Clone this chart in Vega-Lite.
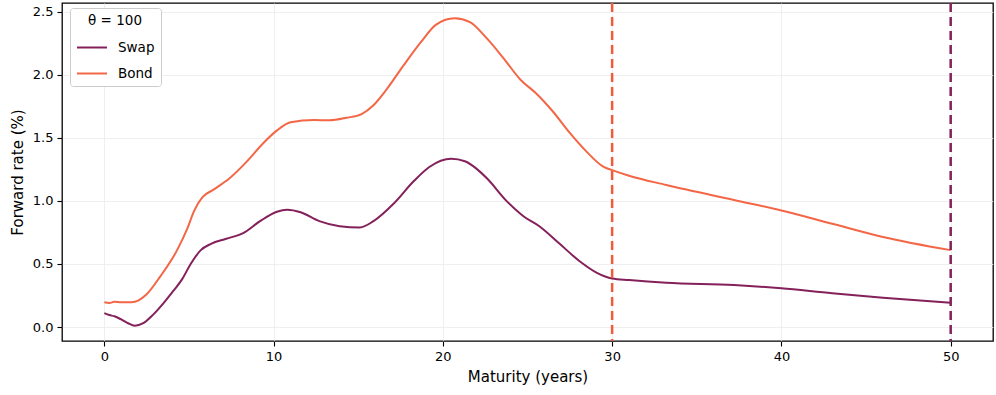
{
  "$schema": "https://vega.github.io/schema/vega-lite/v6.json",
  "width": 931,
  "height": 338,
  "autosize": {"type": "none"},
  "padding": {"left": 62, "top": 3, "right": 3, "bottom": 54},
  "background": "white",
  "config": {
    "font": "DejaVu Sans",
    "view": {"stroke": "black", "strokeWidth": 1.3},
    "axis": {
      "domain": false,
      "grid": true,
      "gridColor": "#ebebeb",
      "gridWidth": 0.8,
      "tickColor": "black",
      "tickSize": 5,
      "tickWidth": 1.1,
      "labelFont": "DejaVu Sans",
      "labelFontSize": 13,
      "labelColor": "black",
      "titleFont": "DejaVu Sans",
      "titleFontSize": 15,
      "titleFontWeight": "normal",
      "titleColor": "black"
    }
  },
  "layer": [
    {
      "data": {"values": [
        {"x": 0, "y": 0.11, "s": "Swap"}, {"x": 0.3, "y": 0.095, "s": "Swap"}, {"x": 0.6, "y": 0.085, "s": "Swap"}, {"x": 1.0, "y": 0.06, "s": "Swap"}, {"x": 1.4, "y": 0.03, "s": "Swap"}, {"x": 1.8, "y": 0.01, "s": "Swap"}, {"x": 2.3, "y": 0.03, "s": "Swap"}, {"x": 2.9, "y": 0.1, "s": "Swap"}, {"x": 3.5, "y": 0.19, "s": "Swap"}, {"x": 4.1, "y": 0.29, "s": "Swap"}, {"x": 4.6, "y": 0.38, "s": "Swap"}, {"x": 5.1, "y": 0.5, "s": "Swap"}, {"x": 5.7, "y": 0.61, "s": "Swap"}, {"x": 6.3, "y": 0.66, "s": "Swap"}, {"x": 7.2, "y": 0.7, "s": "Swap"}, {"x": 8.2, "y": 0.745, "s": "Swap"}, {"x": 9.2, "y": 0.84, "s": "Swap"}, {"x": 10.2, "y": 0.915, "s": "Swap"}, {"x": 10.8, "y": 0.93, "s": "Swap"}, {"x": 11.6, "y": 0.91, "s": "Swap"}, {"x": 12.7, "y": 0.84, "s": "Swap"}, {"x": 13.9, "y": 0.8, "s": "Swap"}, {"x": 15.1, "y": 0.79, "s": "Swap"}, {"x": 15.9, "y": 0.84, "s": "Swap"}, {"x": 17.1, "y": 0.98, "s": "Swap"}, {"x": 18.3, "y": 1.16, "s": "Swap"}, {"x": 19.2, "y": 1.27, "s": "Swap"}, {"x": 20.5, "y": 1.335, "s": "Swap"}, {"x": 21.3, "y": 1.315, "s": "Swap"}, {"x": 22.0, "y": 1.255, "s": "Swap"}, {"x": 22.6, "y": 1.18, "s": "Swap"}, {"x": 23.8, "y": 0.995, "s": "Swap"}, {"x": 24.8, "y": 0.875, "s": "Swap"}, {"x": 25.7, "y": 0.8, "s": "Swap"}, {"x": 26.9, "y": 0.66, "s": "Swap"}, {"x": 28.1, "y": 0.52, "s": "Swap"}, {"x": 29.1, "y": 0.43, "s": "Swap"}, {"x": 30, "y": 0.385, "s": "Swap"}, {"x": 31, "y": 0.373, "s": "Swap"}, {"x": 33.2, "y": 0.352, "s": "Swap"}, {"x": 37.2, "y": 0.333, "s": "Swap"}, {"x": 40, "y": 0.307, "s": "Swap"}, {"x": 43, "y": 0.267, "s": "Swap"}, {"x": 46, "y": 0.233, "s": "Swap"}, {"x": 50, "y": 0.193, "s": "Swap"},
        {"x": 0, "y": 0.196, "s": "Bond"}, {"x": 0.3, "y": 0.19, "s": "Bond"}, {"x": 0.6, "y": 0.2, "s": "Bond"}, {"x": 1.0, "y": 0.196, "s": "Bond"}, {"x": 1.6, "y": 0.197, "s": "Bond"}, {"x": 2.0, "y": 0.21, "s": "Bond"}, {"x": 2.5, "y": 0.26, "s": "Bond"}, {"x": 3.3, "y": 0.4, "s": "Bond"}, {"x": 4.3, "y": 0.61, "s": "Bond"}, {"x": 4.9, "y": 0.78, "s": "Bond"}, {"x": 5.3, "y": 0.92, "s": "Bond"}, {"x": 5.8, "y": 1.03, "s": "Bond"}, {"x": 6.45, "y": 1.09, "s": "Bond"}, {"x": 7.4, "y": 1.18, "s": "Bond"}, {"x": 8.4, "y": 1.31, "s": "Bond"}, {"x": 9.4, "y": 1.46, "s": "Bond"}, {"x": 10.2, "y": 1.56, "s": "Bond"}, {"x": 11.0, "y": 1.625, "s": "Bond"}, {"x": 12.4, "y": 1.643, "s": "Bond"}, {"x": 13.3, "y": 1.64, "s": "Bond"}, {"x": 14.3, "y": 1.66, "s": "Bond"}, {"x": 15.2, "y": 1.69, "s": "Bond"}, {"x": 15.9, "y": 1.76, "s": "Bond"}, {"x": 16.7, "y": 1.89, "s": "Bond"}, {"x": 17.7, "y": 2.08, "s": "Bond"}, {"x": 18.7, "y": 2.26, "s": "Bond"}, {"x": 19.6, "y": 2.4, "s": "Bond"}, {"x": 20.7, "y": 2.45, "s": "Bond"}, {"x": 21.6, "y": 2.42, "s": "Bond"}, {"x": 22.6, "y": 2.29, "s": "Bond"}, {"x": 23.6, "y": 2.13, "s": "Bond"}, {"x": 24.6, "y": 1.96, "s": "Bond"}, {"x": 25.5, "y": 1.855, "s": "Bond"}, {"x": 26.5, "y": 1.71, "s": "Bond"}, {"x": 27.5, "y": 1.54, "s": "Bond"}, {"x": 28.5, "y": 1.39, "s": "Bond"}, {"x": 29.5, "y": 1.27, "s": "Bond"}, {"x": 30, "y": 1.245, "s": "Bond"}, {"x": 31, "y": 1.2, "s": "Bond"}, {"x": 33.2, "y": 1.127, "s": "Bond"}, {"x": 37.2, "y": 1.008, "s": "Bond"}, {"x": 40, "y": 0.925, "s": "Bond"}, {"x": 43, "y": 0.82, "s": "Bond"}, {"x": 46, "y": 0.715, "s": "Bond"}, {"x": 50, "y": 0.61, "s": "Bond"}
      ]},
      "mark": {"type": "line", "interpolate": "monotone", "strokeWidth": 2},
      "encoding": {
        "x": {"field": "x", "type": "quantitative", "title": "Maturity (years)",
              "scale": {"domain": [-2.5, 52.5], "nice": false, "zero": false},
              "axis": {"values": [0, 10, 20, 30, 40, 50], "labelPadding": 4, "titlePadding": 6}},
        "y": {"field": "y", "type": "quantitative", "title": "Forward rate (%)",
              "scale": {"domain": [-0.111, 2.571], "nice": false, "zero": false},
              "axis": {"values": [0, 0.5, 1, 1.5, 2, 2.5], "format": ".1f", "labelPadding": 4, "titlePadding": 7}},
        "color": {"field": "s", "type": "nominal", "sort": ["Swap", "Bond"],
                  "scale": {"domain": ["Swap", "Bond"], "range": ["#84205a", "#f36646"]},
                  "legend": {"title": "θ = 100", "orient": "none", "legendX": 8, "legendY": 5,
                             "titleAnchor": "middle", "titleFont": "DejaVu Sans", "titleFontSize": 13.5, "titleFontWeight": "normal",
                             "labelFont": "DejaVu Sans", "labelFontSize": 13.5, "labelColor": "black", "labelOffset": 10,
                             "symbolType": "stroke", "symbolStrokeWidth": 2, "symbolSize": 900,
                             "fillColor": "white", "strokeColor": "#cccccc", "cornerRadius": 3, "padding": 6, "rowPadding": 3, "titlePadding": 4}}
      }
    },
    {
      "data": {"values": [{"x": 30}]},
      "mark": {"type": "rule", "color": "#f05b3c", "strokeWidth": 2.5, "strokeDash": [9, 5]},
      "encoding": {"x": {"field": "x", "type": "quantitative"}}
    },
    {
      "data": {"values": [{"x": 50}]},
      "mark": {"type": "rule", "color": "#84205a", "strokeWidth": 2.5, "strokeDash": [9, 5]},
      "encoding": {"x": {"field": "x", "type": "quantitative"}}
    }
  ]
}
